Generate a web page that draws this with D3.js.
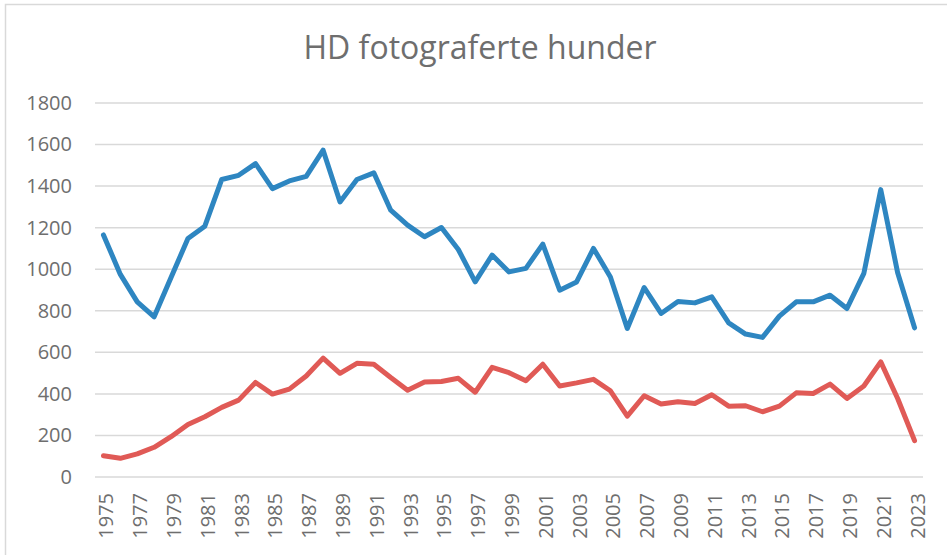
<!DOCTYPE html>
<html>
<head>
<meta charset="utf-8">
<script src="https://cdn.jsdelivr.net/npm/d3@7"></script>
<style>
  body { margin: 0; background: #fff; }
  svg { font-family: "Open Sans", sans-serif; }
</style>
</head>
<body>
<svg id="chart"></svg>
<script>
const years = d3.range(1975, 2024).map(String);

const blueValues = [
  1165, 975, 843, 771, 960, 1148, 1207, 1432, 1452, 1508,
  1388, 1425, 1447, 1573, 1324, 1432, 1464, 1284, 1212, 1156,
  1201, 1095, 939, 1068, 987, 1004, 1121, 899, 939, 1100,
  963, 715, 912, 787, 845, 838, 867, 742, 688, 672,
  774, 843, 843, 875, 811, 980, 1383, 983, 718
];

const redValues = [
  102, 90, 111, 143, 194, 253, 290, 335, 370, 455,
  399, 423, 486, 572, 499, 547, 543, 479, 418, 457,
  460, 475, 408, 528, 502, 463, 543, 438, 453, 470,
  415, 293, 391, 351, 362, 354, 396, 341, 343, 314,
  341, 405, 402, 447, 378, 438, 554, 378, 175
];

const yTicks = [0, 200, 400, 600, 800, 1000, 1200, 1400, 1600, 1800];
const xTickLabels = years.filter((d, i) => i % 2 === 0);

const title = 'HD fotograferte hunder';

const width = 947;
const height = 555;
const margin = { top: 103, right: 24, bottom: 78, left: 95 };
const innerW = width - margin.left - margin.right;
const innerH = height - margin.top - margin.bottom;

const svg = d3.select('#chart').attr('width', width).attr('height', height);

// chart area border
svg.append('rect')
  .attr('x', 5.5).attr('y', 4.5)
  .attr('width', width).attr('height', height)
  .attr('fill', 'none')
  .attr('stroke', '#d9d9d9')
  .attr('stroke-width', 1.5);

svg.append('text')
  .attr('x', 480)
  .attr('y', 59)
  .attr('text-anchor', 'middle')
  .attr('fill', '#6e6e6e')
  .style('font-size', '32px')
  .text(title);

const g = svg.append('g').attr('transform', `translate(${margin.left},${margin.top})`);

const x = d3.scaleBand().domain(years).range([0, innerW]);
const y = d3.scaleLinear().domain([0, 1800]).range([innerH, 0]);

// gridlines
g.append('g')
  .selectAll('line')
  .data(yTicks)
  .join('line')
  .attr('x1', 0).attr('x2', innerW)
  .attr('y1', (d) => y(d)).attr('y2', (d) => y(d))
  .attr('stroke', '#d9d9d9')
  .attr('stroke-width', 1.5);

const yAxis = d3.axisLeft(y).tickValues(yTicks).tickFormat(d3.format('d')).tickSize(0).tickPadding(23);
g.append('g').call(yAxis)
  .call((s) => s.select('.domain').remove())
  .selectAll('text')
  .attr('fill', '#6e6e6e')
  .style('font-size', '20px')
  .style('font-family', '"Open Sans", sans-serif');

const xAxis = d3.axisBottom(x).tickValues(xTickLabels).tickSize(0).tickPadding(0);
g.append('g')
  .attr('transform', `translate(0,${innerH})`)
  .call(xAxis)
  .call((s) => s.select('.domain').remove())
  .selectAll('text')
  .attr('fill', '#6e6e6e')
  .style('font-size', '20px')
  .style('font-family', '"Open Sans", sans-serif')
  .attr('text-anchor', 'end')
  .attr('dy', null)
  .attr('y', 0)
  .attr('transform', 'translate(10,16) rotate(-90)');

const line = d3.line()
  .x((d, i) => x(years[i]) + x.bandwidth() / 2)
  .y((d) => y(d));

g.append('path')
  .datum(blueValues)
  .attr('fill', 'none')
  .attr('stroke', '#2e86c1')
  .attr('stroke-width', 5)
  .attr('stroke-linejoin', 'round')
  .attr('stroke-linecap', 'round')
  .attr('d', line);

g.append('path')
  .datum(redValues)
  .attr('fill', 'none')
  .attr('stroke', '#e05a56')
  .attr('stroke-width', 5)
  .attr('stroke-linejoin', 'round')
  .attr('stroke-linecap', 'round')
  .attr('d', line);
</script>
</body>
</html>
